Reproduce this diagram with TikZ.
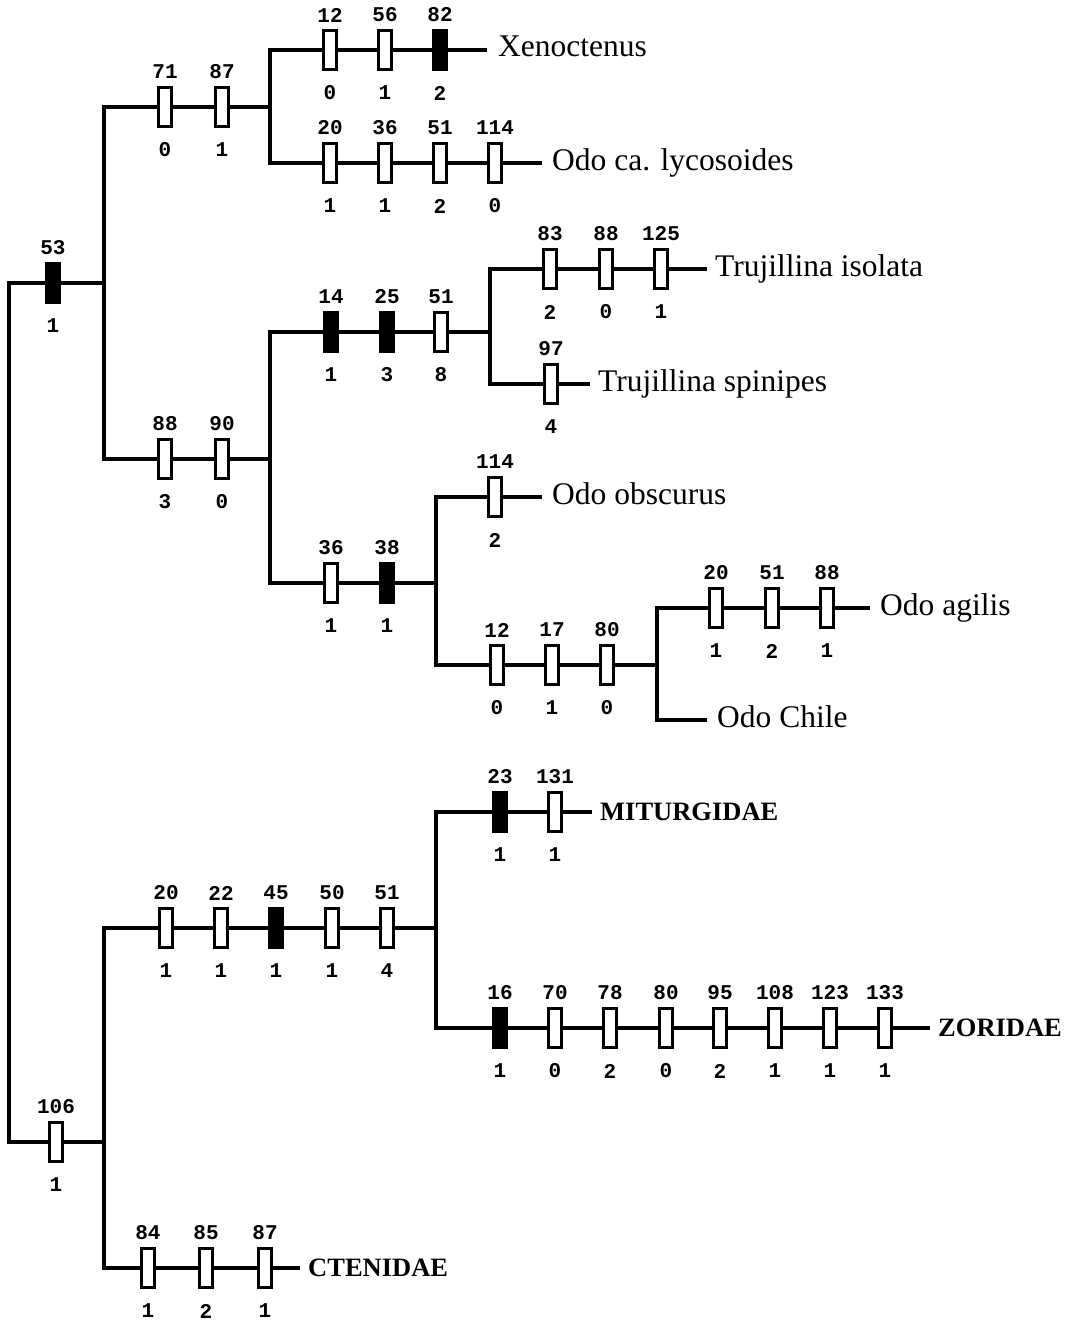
\documentclass[tikz,border=0pt]{standalone}
\usepackage{fontspec}
\setmainfont{Liberation Serif}
\newfontfamily\monof{Liberation Mono}
\usetikzlibrary{calc}
\tikzset{
  obox/.style={draw=black, fill=white, line width=3pt, rectangle, inner sep=0pt, minimum width=13pt, minimum height=39pt},
  fbox/.style={obox, fill=black},
  num/.style={font=\monof\bfseries\fontsize{21}{21}\selectfont, inner sep=0pt, anchor=center},
  taxon/.style={font=\fontsize{31.5}{31.5}\selectfont, inner sep=0pt, anchor=base west},
  fam/.style={font=\bfseries\fontsize{26.5}{26.5}\selectfont, inner sep=0pt, anchor=base west},
  br/.style={line width=3.2pt, line cap=rect}
}
\newcommand{\chbox}[6]{%
  \node[#6] (#1) at (#2,#3) {};
  \node[num] (#1t) at (#2,#3-35) {#4};
  \node[num] (#1b) at (#2,#3+43) {#5};
}
\begin{document}
\begin{tikzpicture}[x=1pt,y=-1pt]
\useasboundingbox (0,0) rectangle (1071,1322);
% ---- branch points
\coordinate (rootTop) at (9,283);
\coordinate (rootBot) at (9,1142);
\coordinate (nA) at (104,283);
\coordinate (nAu) at (104,107);
\coordinate (nAl) at (104,459);
\coordinate (nB) at (270,107);
\coordinate (nBu) at (270,50);
\coordinate (nBl) at (270,163);
\coordinate (nC) at (270,459);
\coordinate (nCu) at (270,332);
\coordinate (nCl) at (270,583);
\coordinate (nD) at (490,332);
\coordinate (nDu) at (490,269);
\coordinate (nDl) at (490,384);
\coordinate (nE) at (436,583);
\coordinate (nEu) at (436,497);
\coordinate (nEl) at (436,665);
\coordinate (nF) at (657,665);
\coordinate (nFu) at (657,608);
\coordinate (nFl) at (657,720);
\coordinate (nG) at (104,1142);
\coordinate (nGu) at (104,928);
\coordinate (nGl) at (104,1268);
\coordinate (nH) at (436,928);
\coordinate (nHu) at (436,812);
\coordinate (nHl) at (436,1028);
% ---- terminal ends
\coordinate (xe) at (485,50);
\coordinate (oe) at (540,163);
\coordinate (ie) at (705,269);
\coordinate (se) at (588,384);
\coordinate (be) at (540,497);
\coordinate (ae) at (868,608);
\coordinate (che) at (705,720);
\coordinate (mie) at (590,812);
\coordinate (ze) at (928,1028);
\coordinate (ke) at (298,1268);
% ---- character boxes
\chbox{r53}{53}{283}{53}{1}{fbox}
\chbox{a71}{165}{107}{71}{0}{obox}
\chbox{a87}{222}{107}{87}{1}{obox}
\chbox{x12}{330}{50}{12}{0}{obox}
\chbox{x56}{385}{50}{56}{1}{obox}
\chbox{x82}{440}{50}{82}{2}{fbox}
\chbox{o20}{330}{163}{20}{1}{obox}
\chbox{o36}{385}{163}{36}{1}{obox}
\chbox{o51}{440}{163}{51}{2}{obox}
\chbox{o114}{495}{163}{114}{0}{obox}
\chbox{c88}{165}{459}{88}{3}{obox}
\chbox{c90}{222}{459}{90}{0}{obox}
\chbox{t14}{331}{332}{14}{1}{fbox}
\chbox{t25}{387}{332}{25}{3}{fbox}
\chbox{t51}{441}{332}{51}{8}{obox}
\chbox{i83}{550}{269}{83}{2}{obox}
\chbox{i88}{606}{269}{88}{0}{obox}
\chbox{i125}{661}{269}{125}{1}{obox}
\chbox{s97}{551}{384}{97}{4}{obox}
\chbox{c36}{331}{583}{36}{1}{obox}
\chbox{c38}{387}{583}{38}{1}{fbox}
\chbox{b114}{495}{497}{114}{2}{obox}
\chbox{g12}{497}{665}{12}{0}{obox}
\chbox{g17}{552}{665}{17}{1}{obox}
\chbox{g80}{607}{665}{80}{0}{obox}
\chbox{ag20}{716}{608}{20}{1}{obox}
\chbox{ag51}{772}{608}{51}{2}{obox}
\chbox{ag88}{827}{608}{88}{1}{obox}
\chbox{r106}{56}{1142}{106}{1}{obox}
\chbox{m20}{166}{928}{20}{1}{obox}
\chbox{m22}{221}{928}{22}{1}{obox}
\chbox{m45}{276}{928}{45}{1}{fbox}
\chbox{m50}{332}{928}{50}{1}{obox}
\chbox{m51}{387}{928}{51}{4}{obox}
\chbox{mi23}{500}{812}{23}{1}{fbox}
\chbox{mi131}{555}{812}{131}{1}{obox}
\chbox{z16}{500}{1028}{16}{1}{fbox}
\chbox{z70}{555}{1028}{70}{0}{obox}
\chbox{z78}{610}{1028}{78}{2}{obox}
\chbox{z80}{666}{1028}{80}{0}{obox}
\chbox{z95}{720}{1028}{95}{2}{obox}
\chbox{z108}{775}{1028}{108}{1}{obox}
\chbox{z123}{830}{1028}{123}{1}{obox}
\chbox{z133}{885}{1028}{133}{1}{obox}
\chbox{k84}{148}{1268}{84}{1}{obox}
\chbox{k85}{206}{1268}{85}{2}{obox}
\chbox{k87}{265}{1268}{87}{1}{obox}
% ---- taxon labels
\node[taxon] (tXeno) at (498,57) {Xenoctenus};
\node[taxon] (tLyco) at (552,170) {Odo ca. lycosoides};
\node[taxon] (tIsol) at (715,276) {Trujillina isolata};
\node[taxon] (tSpin) at (598,391) {Trujillina spinipes};
\node[taxon] (tObsc) at (552,504) {Odo obscurus};
\node[taxon] (tAgil) at (880,615) {Odo agilis};
\node[taxon] (tChil) at (717,727) {Odo Chile};
\node[fam] (tMitu) at (600,820) {MITURGIDAE};
\node[fam] (tZori) at (938,1036) {ZORIDAE};
\node[fam] (tCten) at (308,1276) {CTENIDAE};
% ---- branches
\draw[br] (rootBot) -- (rootTop);
\draw[br] (rootTop) -- (r53) -- (nA);
\draw[br] (nAu) -- (nAl);
\draw[br] (nAu) -- (a71) -- (a87) -- (nB);
\draw[br] (nBu) -- (nBl);
\draw[br] (nBu) -- (x12) -- (x56) -- (x82) -- (xe);
\draw[br] (nBl) -- (o20) -- (o36) -- (o51) -- (o114) -- (oe);
\draw[br] (nAl) -- (c88) -- (c90) -- (nC);
\draw[br] (nCu) -- (nCl);
\draw[br] (nCu) -- (t14) -- (t25) -- (t51) -- (nD);
\draw[br] (nDu) -- (nDl);
\draw[br] (nDu) -- (i83) -- (i88) -- (i125) -- (ie);
\draw[br] (nDl) -- (s97) -- (se);
\draw[br] (nCl) -- (c36) -- (c38) -- (nE);
\draw[br] (nEu) -- (nEl);
\draw[br] (nEu) -- (b114) -- (be);
\draw[br] (nEl) -- (g12) -- (g17) -- (g80) -- (nF);
\draw[br] (nFu) -- (nFl);
\draw[br] (nFu) -- (ag20) -- (ag51) -- (ag88) -- (ae);
\draw[br] (nFl) -- (che);
\draw[br] (rootBot) -- (r106) -- (nG);
\draw[br] (nGu) -- (nGl);
\draw[br] (nGu) -- (m20) -- (m22) -- (m45) -- (m50) -- (m51) -- (nH);
\draw[br] (nHu) -- (nHl);
\draw[br] (nHu) -- (mi23) -- (mi131) -- (mie);
\draw[br] (nHl) -- (z16) -- (z70) -- (z78) -- (z80) -- (z95) -- (z108) -- (z123) -- (z133) -- (ze);
\draw[br] (nGl) -- (k84) -- (k85) -- (k87) -- (ke);
\end{tikzpicture}
\end{document}
